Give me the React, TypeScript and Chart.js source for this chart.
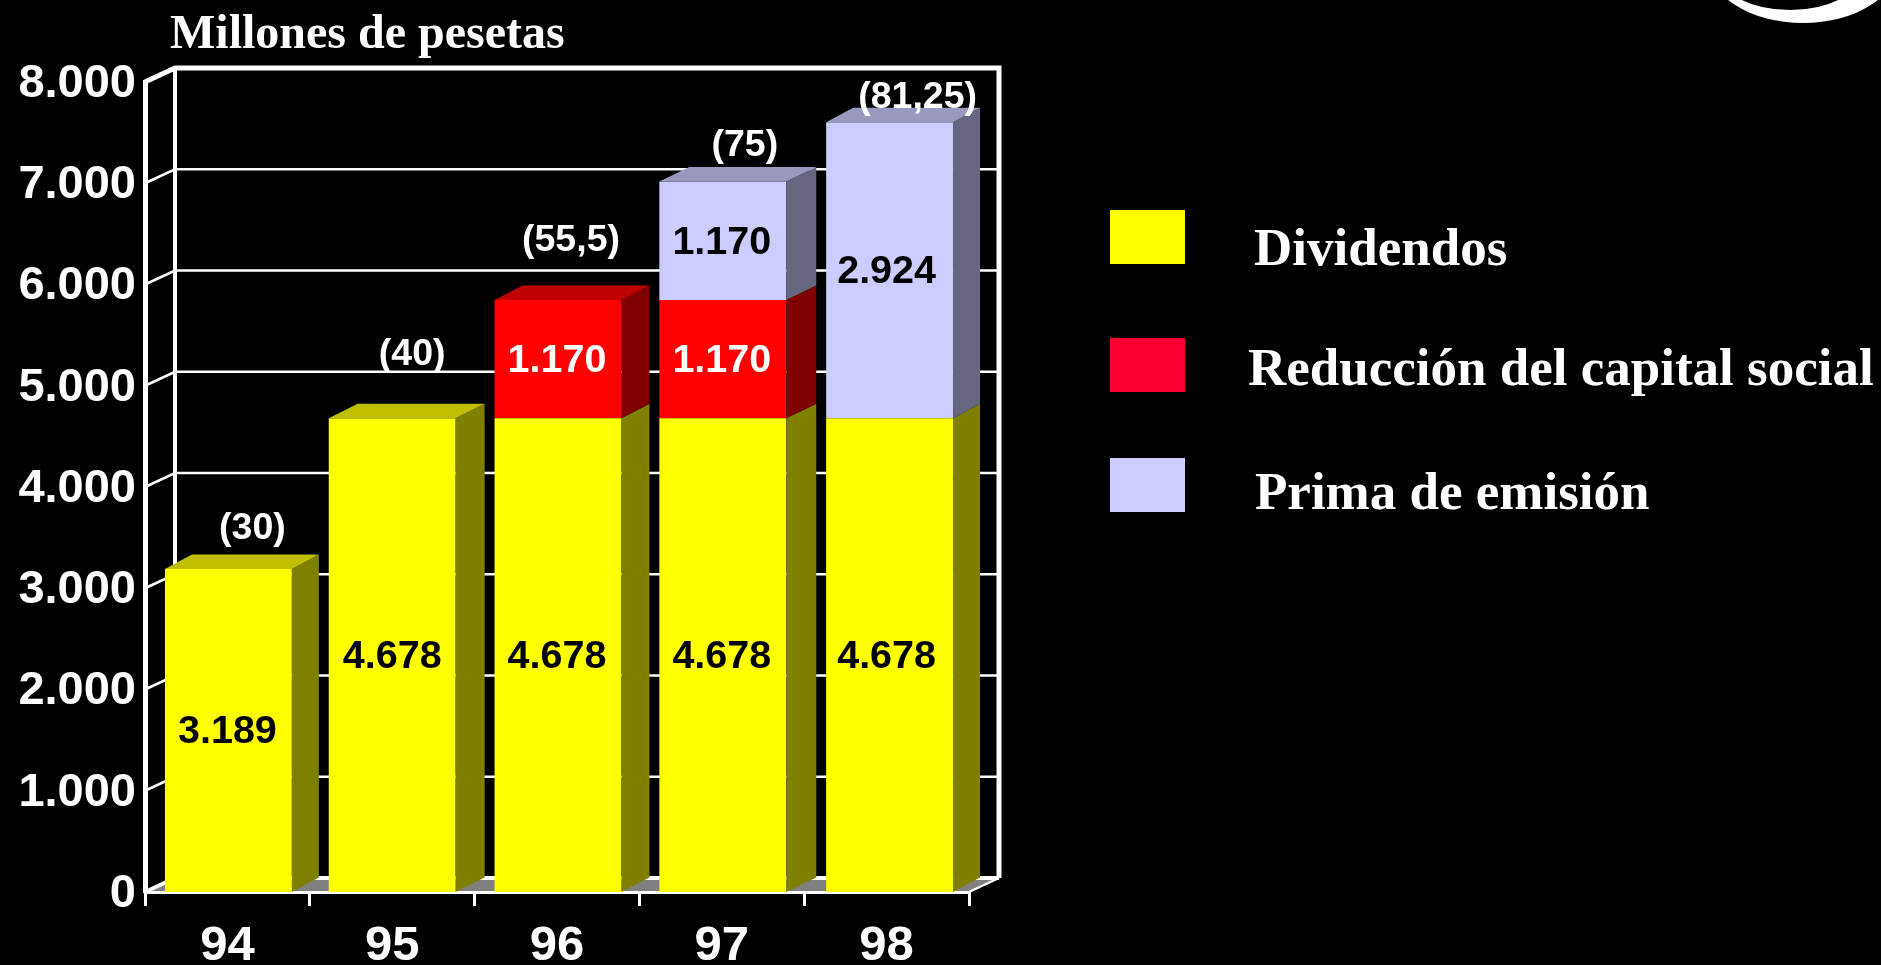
import React, { useEffect, useRef } from "react";
import { Chart, registerables } from "chart.js";

Chart.register(...registerables);

const categories = ["94", "95", "96", "97", "98"];
const dividendos = [3189, 4678, 4678, 4678, 4678];
const reduccion = [0, 0, 1170, 1170, 0];
const prima = [0, 0, 0, 1170, 2924];
const yTickValues = [0, 1000, 2000, 3000, 4000, 5000, 6000, 7000, 8000];
const topLabels = ["(30)", "(40)", "(55,5)", "(75)", "(81,25)"];
const chartTitle = "Millones de pesetas";

const SANS = '"Liberation Sans", Arial, sans-serif';
const SERIF = '"Liberation Serif", "Times New Roman", serif';

const WALL_DX = 30;
const WALL_DY = -14;
const barDepths = [27, 29, 28, 30, 27];
const barNudge = [1, 0, 1, 1, 3];
const topLabelShift = [
  [24, -40],
  [20, -64],
  [13, -59],
  [22, -36],
  [28, -25],
];
const seriesStyle = [
  { front: "#ffff00", top: "#bfbf00", side: "#808000", text: "#000000", swatch: "#ffff00" },
  { front: "#ff0000", top: "#bf0000", side: "#800000", text: "#ffffff", swatch: "#ff0033" },
  { front: "#ccccff", top: "#9999bf", side: "#666680", text: "#000000", swatch: "#ccccff" },
];
const legendRows = [
  { box: [1110, 210, 75, 54], textX: 1254, textY: 265 },
  { box: [1110, 338, 75, 54], textX: 1248, textY: 385 },
  { box: [1110, 458, 75, 54], textX: 1255, textY: 509 },
];

const fmt = (v: number) => String(v).replace(/\B(?=(\d{3})+(?!\d))/g, ".");

const poly = (ctx: CanvasRenderingContext2D, pts: number[][], fill: string) => {
  ctx.beginPath();
  pts.forEach((p, i) => (i ? ctx.lineTo(p[0], p[1]) : ctx.moveTo(p[0], p[1])));
  ctx.closePath();
  ctx.fillStyle = fill;
  ctx.fill();
};

const line = (ctx: CanvasRenderingContext2D, pts: number[][], w: number) => {
  ctx.beginPath();
  pts.forEach((p, i) => (i ? ctx.lineTo(p[0], p[1]) : ctx.moveTo(p[0], p[1])));
  ctx.strokeStyle = "#ffffff";
  ctx.lineWidth = w;
  ctx.lineJoin = "miter";
  ctx.stroke();
};

const pseudo3d = {
  id: "pseudo3d",
  afterDatasetsUpdate(chart: any) {
    chart.data.datasets.forEach((_: any, i: number) => {
      chart.getDatasetMeta(i).data.forEach((el: any, j: number) => {
        el.x = chart.scales.x.getPixelForTick(j) + barNudge[j];
      });
    });
  },
  beforeDraw(chart: any) {
    const { ctx, chartArea, scales } = chart;
    const y = scales.y;
    const { left, right, top, bottom } = chartArea;
    ctx.save();
    ctx.fillStyle = "#000";
    ctx.fillRect(0, 0, chart.width, chart.height);

    // logo fragment, top right corner
    ctx.fillStyle = "#fff";
    ctx.beginPath();
    ctx.ellipse(1803, -40, 97, 63, 0, 0, Math.PI * 2);
    ctx.fill();
    ctx.fillStyle = "#000";
    ctx.beginPath();
    ctx.ellipse(1790, -30, 73, 40, 0, 0, Math.PI * 2);
    ctx.fill();

    // floor
    poly(
      ctx,
      [
        [left, bottom],
        [left + WALL_DX, bottom + WALL_DY],
        [right + WALL_DX, bottom + WALL_DY],
        [right, bottom],
      ],
      "#808080"
    );

    // gridlines on back wall and left wall
    yTickValues.forEach((v) => {
      const py = y.getPixelForValue(v);
      if (v > 0 && v < 8000) {
        line(ctx, [[left, py], [left + WALL_DX, py + WALL_DY], [right + WALL_DX, py + WALL_DY]], 2.5);
      }
    });
    // wall frame
    line(ctx, [[left, top], [left + WALL_DX, top + WALL_DY], [right + WALL_DX, top + WALL_DY], [right + WALL_DX, bottom + WALL_DY]], 5);
    line(ctx, [[left + WALL_DX, top + WALL_DY], [left + WALL_DX, bottom + WALL_DY], [right + WALL_DX, bottom + WALL_DY]], 4);
    line(ctx, [[left, bottom], [left + WALL_DX, bottom + WALL_DY]], 4);
    line(ctx, [[right, bottom], [right + WALL_DX, bottom + WALL_DY]], 2);

    // chart title
    ctx.fillStyle = "#fff";
    ctx.font = `bold 48px ${SERIF}`;
    ctx.textAlign = "left";
    ctx.textBaseline = "alphabetic";
    ctx.fillText(chartTitle, 170, 48);

    // legend
    chart.data.datasets.forEach((ds: any, i: number) => {
      const r = legendRows[i];
      ctx.fillStyle = seriesStyle[i].swatch;
      ctx.fillRect(r.box[0], r.box[1], r.box[2], r.box[3]);
      ctx.fillStyle = "#fff";
      ctx.font = `bold 53px ${SERIF}`;
      ctx.fillText(ds.label, r.textX, r.textY);
    });
    ctx.restore();
  },
  afterDatasetsDraw(chart: any) {
    const { ctx, scales } = chart;
    ctx.save();
    const n = categories.length;
    const sets = chart.data.datasets;
    for (let j = 0; j < n; j++) {
      let topSeries = -1;
      sets.forEach((ds: any, i: number) => {
        if (ds.data[j] > 0) topSeries = i;
      });
      const d = barDepths[j];
      const dy = -14.5;
      sets.forEach((ds: any, i: number) => {
        if (!(ds.data[j] > 0)) return;
        const el = chart.getDatasetMeta(i).data[j];
        const half = el.width / 2;
        const l = el.x - half;
        const r = el.x + half;
        poly(ctx, [[r, el.y], [r + d, el.y + dy], [r + d, el.base + dy], [r, el.base]], seriesStyle[i].side);
        if (i === topSeries) {
          poly(ctx, [[l, el.y], [l + d, el.y + dy], [r + d, el.y + dy], [r, el.y]], seriesStyle[i].top);
        }
      });
    }
    ctx.textAlign = "center";
    ctx.textBaseline = "middle";
    sets.forEach((ds: any, i: number) => {
      ds.data.forEach((v: number, j: number) => {
        if (!(v > 0)) return;
        const el = chart.getDatasetMeta(i).data[j];
        ctx.fillStyle = seriesStyle[i].text;
        ctx.font = `bold 39.5px ${SANS}`;
        ctx.fillText(fmt(v), scales.x.getPixelForTick(j), (el.y + el.base) / 2 + 2);
      });
    });
    topLabels.forEach((t, j) => {
      let topSeries = 0;
      sets.forEach((ds: any, i: number) => {
        if (ds.data[j] > 0) topSeries = i;
      });
      const el = chart.getDatasetMeta(topSeries).data[j];
      ctx.fillStyle = "#fff";
      ctx.font = `bold 37.5px ${SANS}`;
      ctx.fillText(t, el.x + topLabelShift[j][0], el.y + topLabelShift[j][1]);
    });
    ctx.restore();
  },
};

export default function App() {
  const ref = useRef<HTMLCanvasElement>(null);
  useEffect(() => {
    const chart = new Chart(ref.current as HTMLCanvasElement, {
      type: "bar",
      data: {
        labels: categories,
        datasets: [
          { label: "Dividendos", data: dividendos, backgroundColor: seriesStyle[0].front },
          { label: "Reducción del capital social", data: reduccion, backgroundColor: seriesStyle[1].front },
          { label: "Prima de emisión", data: prima, backgroundColor: seriesStyle[2].front },
        ],
      },
      options: {
        animation: false,
        responsive: false,
        devicePixelRatio: 1,
        layout: { padding: { top: 82, right: 912, left: 0, bottom: 0 } },
        plugins: { legend: { display: false }, title: { display: false }, tooltip: { enabled: false } },
        datasets: { bar: { barPercentage: 0.77, categoryPercentage: 1 } },
        scales: {
          x: {
            stacked: true,
            afterFit: (s: any) => {
              s.height = 73;
            },
            grid: { drawOnChartArea: false, drawTicks: true, tickLength: 14, color: "#fff", lineWidth: 3 },
            border: { display: true, color: "#fff", width: 3 },
            ticks: { color: "#fff", font: { family: SANS, weight: "bold", size: 49 }, padding: 11, maxRotation: 0 },
          },
          y: {
            stacked: true,
            min: 0,
            max: 8000,
            afterFit: (s: any) => {
              s.width = 145;
            },
            afterBuildTicks: (s: any) => {
              s.ticks = yTickValues.map((value) => ({ value }));
            },
            grid: { display: false, drawTicks: false },
            border: { display: true, color: "#fff", width: 5 },
            ticks: {
              color: "#fff",
              font: { family: SANS, weight: "bold", size: 47 },
              padding: 9,
              labelOffset: 2,
              callback: (v: any) => fmt(Number(v)),
            },
          },
        },
      },
      plugins: [pseudo3d],
    } as any);
    return () => chart.destroy();
  }, []);
  return (
    <div style={{ position: "fixed", inset: 0, background: "#000" }}>
      <canvas ref={ref} width={1881} height={965} style={{ display: "block" }} />
    </div>
  );
}
